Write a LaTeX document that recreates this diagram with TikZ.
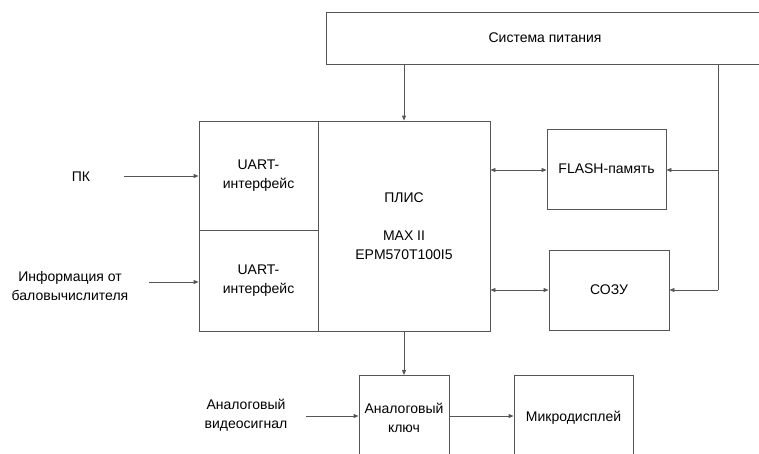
\documentclass[tikz,border=0pt]{standalone}
\usepackage{fontspec}
\setmainfont{Liberation Sans}
\usetikzlibrary{arrows.meta}
\definecolor{linegray}{RGB}{85,85,85}
\tikzset{
  blk/.style={draw=linegray, line width=0.9pt, rectangle, inner sep=0pt, align=center, font=\fontsize{14}{19}\selectfont},
  lbl/.style={align=center, inner sep=0pt, font=\fontsize{14}{19}\selectfont},
  conn/.style={draw=linegray, line width=0.9pt},
  tip/.style={-{Triangle[length=5pt,width=4pt]}},
  dtip/.style={{Triangle[length=5pt,width=4pt]}-{Triangle[length=5pt,width=4pt]}}
}
\begin{document}
\begin{tikzpicture}[x=1pt,y=-1pt]
  \useasboundingbox (0,0) rectangle (759,453);
  \clip (0,0) rectangle (759,453);
  \fill[white] (0,0) rectangle (759,453);

  % power supply, runs off the right edge
  \node[blk, minimum width=438pt, minimum height=52pt] (pwr) at (545,38) {Система питания};

  % FPGA block with its two UART sections
  \node[blk, minimum width=119pt, minimum height=109pt] (u1) at (258.5,175.5) {UART-\\интерфейс};
  \node[blk, minimum width=119pt, minimum height=101pt] (u2) at (258.5,280.5) {UART-\\интерфейс};
  \node[blk, minimum width=172pt, minimum height=210pt] (plis) at (404,226) {ПЛИС\\ \\MAX II\\EPM570T100I5};

  % memories
  \node[blk, minimum width=119pt, minimum height=80pt] (flash) at (606.5,169) {FLASH-память};
  \node[blk, minimum width=120pt, minimum height=80pt] (ram) at (609,290) {СОЗУ};

  % output stage, boxes run off the bottom edge
  \node[blk, minimum width=90pt, minimum height=84pt, anchor=north] (key) at (404,375) {Аналоговый\\ключ};
  \node[blk, minimum width=119pt, minimum height=84pt, anchor=north] (disp) at (573.5,375) {Микродисплей};

  % external sources
  \node[lbl] (pc) at (81,177) {ПК};
  \node[lbl] (info) at (70,285.5) {Информация от\\баловычислителя};
  \node[lbl] (video) at (246,415.5) {Аналоговый\\видеосигнал};

  % connection points
  \coordinate (pcend) at (124,176);
  \coordinate (infoend) at (149,282);
  \coordinate (videoend) at (306,416);
  \coordinate (pj) at (718,64);
  \coordinate (fj) at (718,170);
  \coordinate (rj) at (718,290);

  % inputs
  \draw[conn, tip] (pcend) -- (pcend -| u1.west);
  \draw[conn, tip] (infoend) -- (infoend -| u2.west);
  \draw[conn, tip] (videoend) -- (videoend -| key.west);

  % power distribution
  \draw[conn, tip] (pwr.south -| plis.north) -- (plis.north);
  \draw[conn] (pj) -- (rj);
  \draw[conn, tip] (fj) -- (fj -| flash.east);
  \draw[conn, tip] (rj) -- (rj -| ram.east);

  % data links
  \draw[conn, dtip] (fj -| plis.east) -- (fj -| flash.west);
  \draw[conn, dtip] (rj -| plis.east) -- (rj -| ram.west);
  \draw[conn, tip] (plis.south) -- (key.north);
  \draw[conn, tip] (videoend -| key.east) -- (videoend -| disp.west);
\end{tikzpicture}
\end{document}
